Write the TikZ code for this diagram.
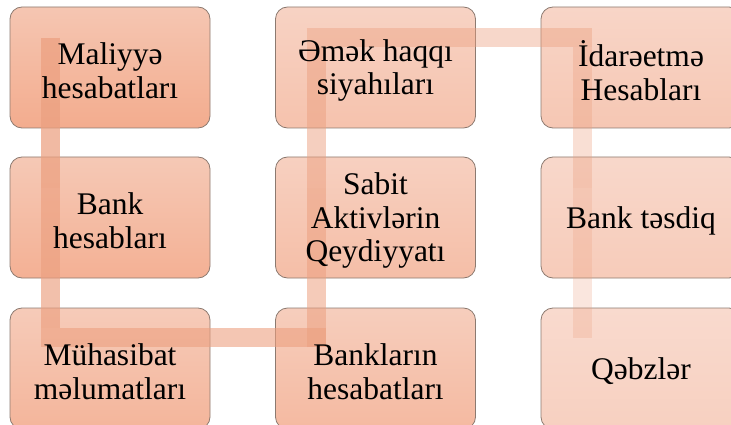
\documentclass[tikz,border=0pt]{standalone}
\usepackage{fontspec}
\setmainfont{Liberation Serif}
\newfontfamily\boxfont{Liberation Serif}
\definecolor{TA}{RGB}{245,198,178}
\definecolor{TB}{RGB}{249,218,206}
\definecolor{BA}{RGB}{243,172,142}
\definecolor{BB}{RGB}{247,208,192}
\definecolor{edgec}{RGB}{140,122,112}
\definecolor{linec}{RGB}{236,160,128}
\tikzset{
  boxshape/.style={rectangle, rounded corners=12pt, draw=edgec, line width=0.8pt,
    minimum width=200pt, minimum height=121pt, inner sep=0pt, outer sep=0pt},
  boxtext/.style={align=center, text=black, inner sep=0pt, yshift=-3pt,
    font=\boxfont\fontsize{31.5}{33.5}\selectfont},
  conn/.style={draw=linec, line width=19pt, line cap=butt},
}
\begin{document}
\begin{tikzpicture}[x=1pt,y=-1pt]
\useasboundingbox (0,0) rectangle (731,425);
\clip (0,0) rectangle (731,425);
% boxes
\foreach \n/\x/\y/\p in {b1/110/67.5/0, b2/110/217.5/12.5, b3/110/368.5/25,
  b4/375.5/368.5/37.5, b5/375.5/217.5/50, b6/375.5/67.5/62.5,
  b7/641/67.5/75, b8/641/217.5/87.5, b9/641/368.5/100}{
  \node[boxshape, top color=TB!\p!TA, bottom color=BB!\p!BA] (\n) at (\x,\y) {};
}
% connector waypoints
\coordinate (p1) at ([xshift=-59.5pt,yshift=29.5pt]b1.center);
\coordinate (p2) at ([xshift=-59.5pt,yshift=29.5pt]b2.center);
\coordinate (p3) at ([xshift=-59.5pt,yshift=31pt]b3.center);
\coordinate (p4) at ([xshift=-59.5pt,yshift=31pt]b4.center);
\coordinate (p5) at ([xshift=-59.5pt,yshift=29.5pt]b5.center);
\coordinate (p6) at ([xshift=-59.5pt,yshift=30pt]b6.center);
\coordinate (p7) at ([xshift=-59pt,yshift=30pt]b7.center);
\coordinate (p8) at ([xshift=-59pt,yshift=29.5pt]b8.center);
\coordinate (p9) at ([xshift=-59pt,yshift=31pt]b9.center);
% connectors
\draw[conn, opacity=0.72] (p1) -- (p2);
\draw[conn, opacity=0.66] (p2) -- ([yshift=9.5pt]p3);
\draw[conn, opacity=0.6] ([xshift=-9.5pt]p3) -- ([xshift=9.5pt]p4);
\draw[conn, opacity=0.55] ([yshift=-9.5pt]p4) -- (p5);
\draw[conn, opacity=0.5] (p5) -- ([yshift=-9.5pt]p6);
\draw[conn, opacity=0.42] ([xshift=-9.5pt]p6) -- ([xshift=9.5pt]p7);
\draw[conn, opacity=0.34] ([yshift=-9.5pt]p7) -- (p8);
\draw[conn, opacity=0.26] (p8) -- (p9);
% texts
\node[boxtext] (t1) at (b1) {Maliyyə\\hesabatları};
\node[boxtext] (t2) at (b2) {Bank\\hesabları};
\node[boxtext] (t3) at (b3) {Mühasibat\\məlumatları};
\node[boxtext] (t4) at (b4) {Bankların\\hesabatları};
\node[boxtext] (t5) at (b5) {Sabit\\Aktivlərin\\Qeydiyyatı};
\node[boxtext] (t6) at (b6) {Əmək haqqı\\siyahıları};
\node[boxtext] (t7) at (b7) {İdarəetmə\\Hesabları};
\node[boxtext] (t8) at (b8) {Bank təsdiq};
\node[boxtext] (t9) at (b9) {Qəbzlər};
\end{tikzpicture}
\end{document}
